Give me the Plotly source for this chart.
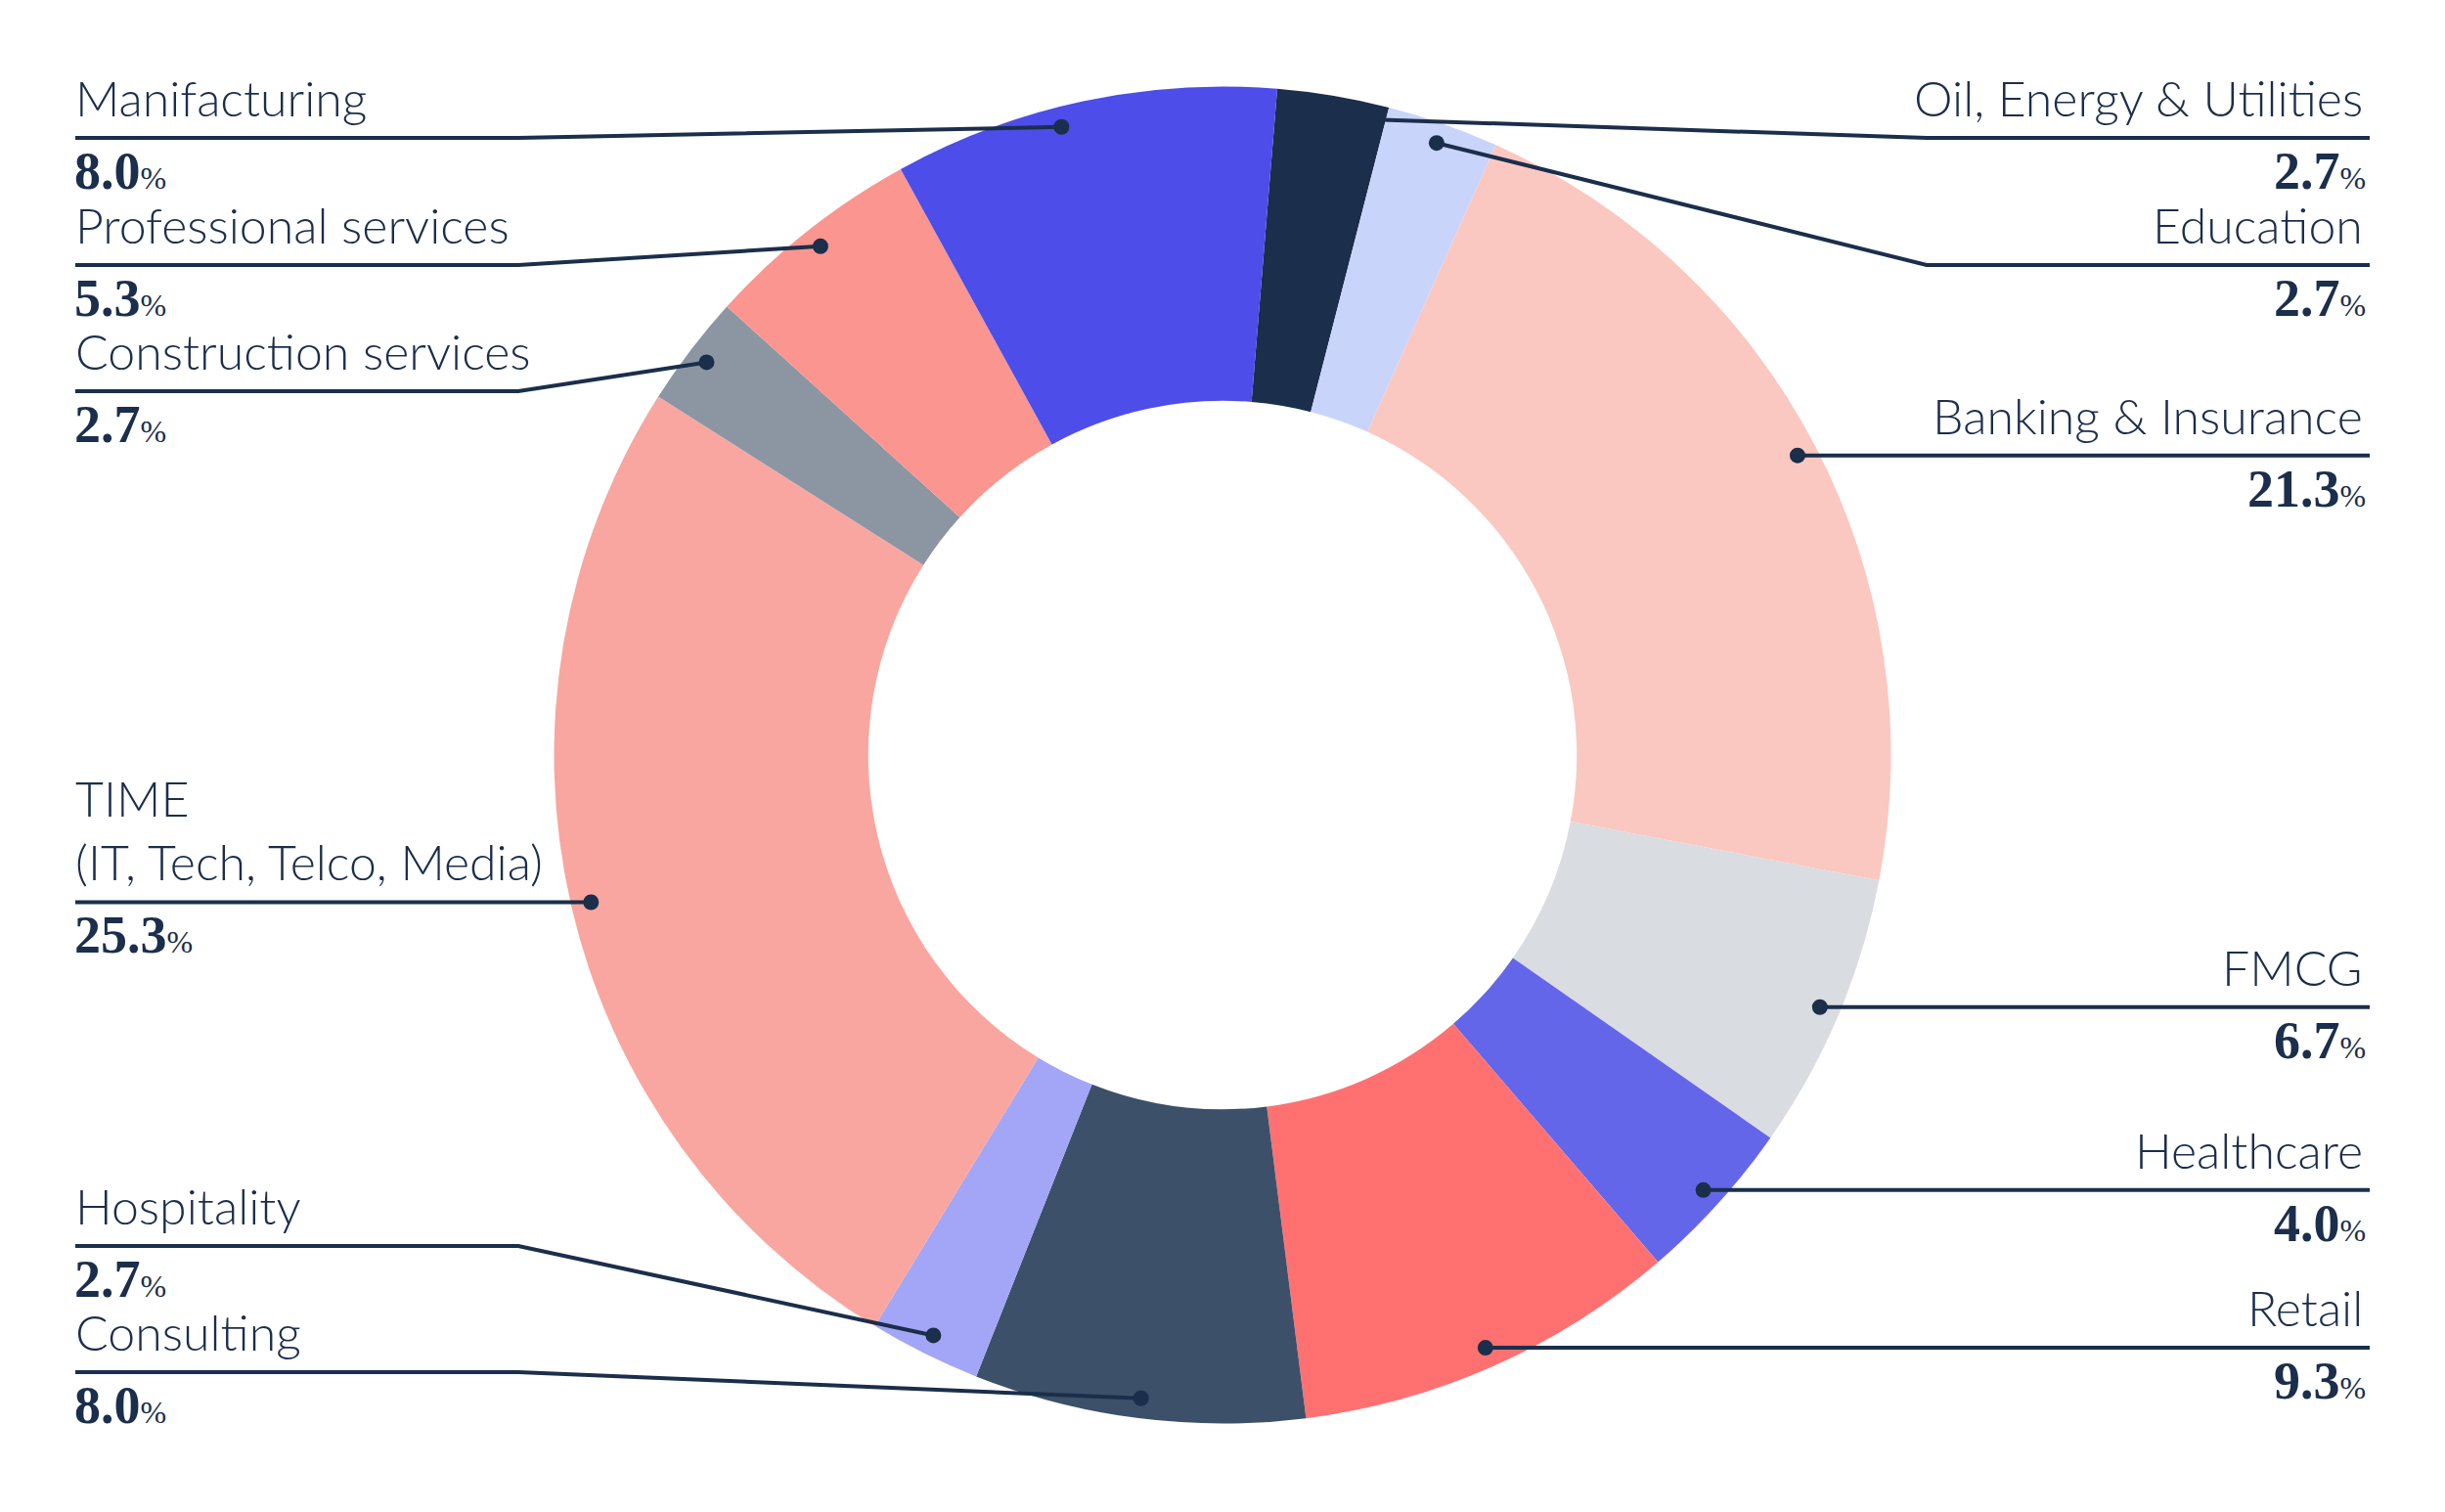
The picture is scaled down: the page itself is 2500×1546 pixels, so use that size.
import numpy as np
import plotly.graph_objects as go

# Sectors in drawing order (clockwise from 12 o'clock); spelling as printed on the chart
sectors = ["Oil, Energy & Utilities", "Education", "Banking & Insurance", "FMCG",
           "Healthcare", "Retail", "Consulting", "Hospitality",
           "TIME<br>(IT, Tech, Telco, Media)", "Construction services",
           "Professional services", "Manifacturing"]
share = [2.7, 2.7, 21.3, 6.7, 4.0, 9.3, 8.0, 2.7, 25.3, 2.7, 5.3, 8.0]
# labelled shares add up to 98.7 %, the remainder is drawn inside the Manufacturing arc
unassigned = 1.3

colors = ["#1b2e4b", "#c9d4fb", "#fac8c0", "#d9dce1", "#6466ea", "#ff7171",
          "#3d5069", "#a3a6f6", "#f9a6a0", "#8c96a3", "#fb958f", "#4d4de9"]

NAVY = "#1b2e4b"
W, H = 2500, 1546
PAGE_PAD = 8                        # default body margin of the html page
CX, CY, R = 1250.0, 772.0, 683.5    # pie centre / radius in screen px
ROTATION = 4.7
HOLE = 0.53

# y of each label's underline in px (None -> level with its dot)
label_line_y = [141, 271, None, None, None, None, 1403, 1274, None, 400, 271, 141]
LEFT_X, RIGHT_X = 77, 2423
LEFT_ELBOW, RIGHT_ELBOW = 530, 1970


def px(x):
    return (x - PAGE_PAD) / W


def py(y):
    return 1 - (y - PAGE_PAD) / H


values = share[:-1] + [share[-1] + unassigned]
fig = go.Figure()
fig.add_trace(go.Pie(
    values=values,
    labels=[s.replace("<br>", " ") for s in sectors],
    marker=dict(colors=colors, line=dict(width=0)),
    hole=HOLE,
    sort=False,
    direction="clockwise",
    rotation=ROTATION,
    textinfo="none",
    hoverinfo="label",
    showlegend=False,
    domain=dict(x=[px(CX - R), px(CX + R)], y=[py(CY + R), py(CY - R)]),
))

shapes = []
annotations = []
total = sum(values)
cum = np.cumsum(values)
for i, name in enumerate(sectors):
    start = ROTATION + 360 * (cum[i] - values[i]) / total
    span = 360 * share[i] / total
    if i == 0:
        # Oil leader stops at the outer edge, no dot
        ang, rr, dot = start + 0.97 * span, 0.98 * R, False
    else:
        ang, rr, dot = start + span / 2, 0.97 * R, True
    a = np.radians(ang % 360)
    dx, dy = CX + rr * np.sin(a), CY - rr * np.cos(a)
    right = (ang % 360) < 180
    ly = label_line_y[i] if label_line_y[i] is not None else dy
    if right:
        path = f"M {px(dx)},{py(dy)} L {px(RIGHT_ELBOW)},{py(ly)} L {px(RIGHT_X)},{py(ly)}"
    else:
        path = f"M {px(LEFT_X)},{py(ly)} L {px(LEFT_ELBOW)},{py(ly)} L {px(dx)},{py(dy)}"
    shapes.append(dict(type="path", path=path, xref="paper", yref="paper",
                       line=dict(color=NAVY, width=4)))
    if dot:
        shapes.append(dict(type="circle", xref="paper", yref="paper",
                           x0=px(dx - 8), x1=px(dx + 8), y0=py(dy + 8), y1=py(dy - 8),
                           fillcolor=NAVY, line=dict(width=0)))
    tx = RIGHT_X - 5 if right else LEFT_X - 2
    anchor = "right" if right else "left"
    annotations.append(dict(
        text=name, x=px(tx), y=py(ly - 9), xref="paper", yref="paper",
        xanchor=anchor, yanchor="bottom", align=anchor, showarrow=False,
        font=dict(family="Lato Light, Lato", size=50, weight=300, color=NAVY)))
    annotations.append(dict(
        text=f"<b>{share[i]:.1f}</b><span style='font-size:32px'>%</span>",
        x=px(RIGHT_X - 2 if right else LEFT_X - 3), y=py(ly + 2), xref="paper", yref="paper",
        xanchor=anchor, yanchor="top", align=anchor, showarrow=False,
        font=dict(family="Liberation Serif", size=54, color=NAVY)))

fig.update_layout(
    width=W, height=H,
    margin=dict(l=0, r=0, t=0, b=0),
    paper_bgcolor="white",
    plot_bgcolor="white",
    shapes=shapes,
    annotations=annotations,
)

fig.write_html("out.html")
